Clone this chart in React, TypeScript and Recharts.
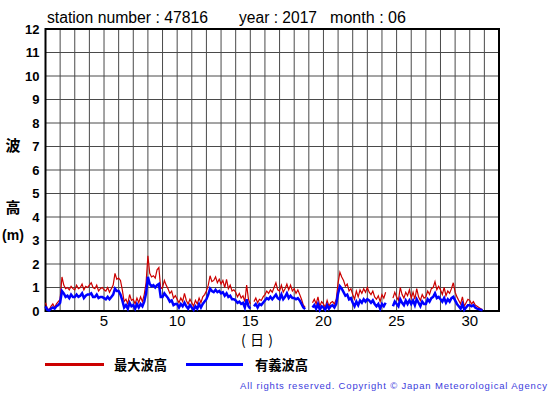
import React from 'react';
import { LineChart, Line, XAxis, YAxis, CartesianGrid, ReferenceArea } from 'recharts';

// 3-hourly values, one row per day (June 2017, station 47816)
const maxWave: (number | null)[] = [
  0.35, 0.1, 0.05, 0.2, 0.3, 0.15, 0.3, 0.4,
  0.5, 1.45, 1.1, 0.95, 1.0, 0.9, 1.05, 0.95,
  0.9, 1.1, 0.95, 1.0, 1.15, 0.9, 1.05, 1.0,
  1.1, 1.2, 1.0, 0.95, 1.1, 0.85, 0.95, 1.0,
  0.9, 0.85, 1.0, 0.8, 0.95, 1.1, 1.6, 1.35,
  1.4, 1.3, 0.9, 0.4, 0.5, 0.3, 0.7, 0.45,
  0.5, 0.3, 0.55, 0.35, 0.6, 0.4, 0.7, 1.2,
  2.35, 1.6, 1.45, 1.5, 1.4, 1.75, 1.85, 0.95,
  1.0, 1.3, 1.1, 0.95, 0.75, 0.85, 0.55, 0.65,
  0.5, 0.35, 0.55, 0.4, 0.75, 0.45, 0.3, 0.5,
  0.35, 0.2, 0.45, 0.3, 0.55, 0.35, 0.6, 0.7,
  0.85, 1.1, 1.5, 1.25, 1.3, 1.45, 1.2, 1.35,
  1.15, 1.3, 1.0, 1.35, 0.95, 1.1, 0.85, 0.9,
  0.8, 0.6, 0.75, 0.55, 0.65, 0.4, 1.1, 0.5,
  0.3, null, 0.4, 0.55, 0.35, 0.5, 0.45, 0.6,
  0.7, 0.85, 0.75, 0.9, 0.8, 1.0, 1.2, 0.9,
  0.85, 1.1, 0.8, 0.95, 1.15, 0.9, 1.1, 0.85,
  0.95, 0.75, 0.9, 0.7, 0.5, 0.25, 0.15, null,
  0.7, null, 0.35, 0.5, 0.3, 0.6, 0.2, 0.4,
  0.3, 0.15, 0.45, 0.2, 0.35, 0.4, 0.3, 0.5,
  1.2, 1.65, 1.45, 1.3, 1.05, 1.15, 0.85, 0.95,
  0.7, 0.5, 0.85, 0.6, 0.9, 0.75, 0.95, 0.8,
  1.0, 0.8, 0.7, 0.85, 0.6, 0.5, 0.65, 0.4,
  0.7, 0.55, 0.8, null, 0.35, null, 0.55, 0.8,
  0.6, 0.45, 1.0, 0.7, 0.55, 0.8, 0.65, 0.9,
  0.55, 0.8, 0.5, 0.95, 0.6, 0.45, 0.7, 0.55,
  0.6, 0.85, 0.7, 0.95, 1.0, 1.25, 0.9, 1.05,
  0.9, 0.7, 1.0, 0.65, 0.85, 0.75, 0.95, 1.2,
  0.8, 0.6, 0.45, 0.3, 0.6, 0.2, 0.35, 0.5,
  0.45, 0.3, 0.4, 0.25, 0.2, 0.15, 0.1, 0.05,
];

const sigWave: (number | null)[] = [
  0.2, 0.05, 0.03, 0.1, 0.15, 0.1, 0.2, 0.25,
  0.35, 0.85, 0.75, 0.6, 0.65, 0.55, 0.7, 0.6,
  0.6, 0.7, 0.6, 0.65, 0.75, 0.55, 0.65, 0.7,
  0.7, 0.75, 0.6, 0.6, 0.7, 0.55, 0.6, 0.6,
  0.55, 0.5, 0.6, 0.5, 0.6, 0.7, 0.95, 0.85,
  0.85, 0.7, 0.45, 0.15, 0.25, 0.1, 0.35, 0.2,
  0.25, 0.1, 0.3, 0.15, 0.3, 0.2, 0.4, 0.75,
  1.45, 1.15, 1.05, 1.1, 1.0, 1.1, 1.15, 0.6,
  0.6, 0.75, 0.65, 0.55, 0.4, 0.45, 0.25, 0.3,
  0.3, 0.15, 0.3, 0.2, 0.35, 0.2, 0.1, 0.25,
  0.15, 0.05, 0.2, 0.1, 0.3, 0.15, 0.3, 0.4,
  0.5, 0.7, 0.95, 0.85, 0.8, 0.9, 0.8, 0.85,
  0.75, 0.8, 0.65, 0.75, 0.6, 0.65, 0.5, 0.5,
  0.45, 0.35, 0.4, 0.3, 0.35, 0.15, 0.5, 0.2,
  0.1, null, 0.2, 0.3, 0.15, 0.3, 0.25, 0.35,
  0.45, 0.55, 0.5, 0.6, 0.5, 0.6, 0.7, 0.55,
  0.5, 0.7, 0.5, 0.6, 0.75, 0.55, 0.65, 0.55,
  0.55, 0.5, 0.55, 0.45, 0.3, 0.15, 0.08, null,
  0.3, null, 0.15, 0.25, 0.1, 0.3, 0.05, 0.2,
  0.15, 0.05, 0.25, 0.1, 0.2, 0.25, 0.15, 0.3,
  0.75, 1.05, 0.95, 0.8, 0.65, 0.7, 0.5, 0.55,
  0.35, 0.2, 0.4, 0.25, 0.45, 0.35, 0.5, 0.4,
  0.5, 0.45, 0.35, 0.45, 0.3, 0.2, 0.3, 0.1,
  0.3, 0.2, 0.35, null, 0.1, null, 0.2, 0.4,
  0.3, 0.2, 0.5, 0.35, 0.25, 0.45, 0.3, 0.45,
  0.3, 0.45, 0.25, 0.5, 0.35, 0.2, 0.4, 0.3,
  0.3, 0.5, 0.4, 0.55, 0.6, 0.75, 0.55, 0.6,
  0.5, 0.4, 0.55, 0.35, 0.5, 0.4, 0.55, 0.6,
  0.45, 0.3, 0.2, 0.1, 0.3, 0.05, 0.15, 0.25,
  0.25, 0.2, 0.25, 0.15, 0.1, 0.08, 0.05, 0.03,
];

const dayTicks = Array.from({ length: 32 }, (_, i) => i + 1);
const dayLabels = [5, 10, 15, 20, 25, 30];
const heightTicks = [0, 1, 2, 3, 4, 5, 6, 7, 8, 9, 10, 11, 12];

const data = maxWave.map((v, i) => ({ t: 1 + i / 8, max: v, sig: sigWave[i] }));

const sans = '"Liberation Sans", Arial, Helvetica, sans-serif';
const cjk = '"Noto Sans CJK JP", sans-serif';

export default function App() {
  return (
    <div style={{ position: 'absolute', left: 0, top: 0, width: 555, height: 395, background: '#fff' }}>
      <LineChart width={555} height={395} data={data} margin={{ top: 29, right: 56, bottom: 55, left: 0 }}>
        <CartesianGrid stroke="#4a4a4a" strokeWidth={1} />
        <XAxis
          type="number"
          dataKey="t"
          domain={[1, 32]}
          ticks={dayTicks}
          interval={0}
          tickFormatter={(v: number) => (dayLabels.includes(v) ? String(v) : '')}
          axisLine={false}
          tickLine={false}
          tickSize={2}
          tickMargin={2}
          height={29}
          tick={{ fill: '#000', fontSize: 15, fontFamily: sans }}
        />
        <YAxis
          type="number"
          domain={[0, 12]}
          ticks={heightTicks}
          interval={0}
          width={45.5}
          axisLine={false}
          tickLine={false}
          tickSize={4}
          tickMargin={2}
          tick={{ fill: '#000', fontSize: 13, fontWeight: 'bold', fontFamily: sans }}
        />
        <ReferenceArea x1={1} x2={32} y1={0} y2={12} fill="none" stroke="#000" strokeWidth={2} />
        <Line
          dataKey="max"
          stroke="#cc0000"
          strokeWidth={1.2}
          dot={false}
          connectNulls={false}
          isAnimationActive={false}
        />
        <Line
          dataKey="sig"
          stroke="#0000ff"
          strokeWidth={2.5}
          dot={false}
          connectNulls={false}
          isAnimationActive={false}
        />
      </LineChart>
      <svg width={555} height={395} style={{ position: 'absolute', left: 0, top: 0, pointerEvents: 'none' }}>
        <g fontFamily={sans} fontSize={16} fill="#000">
          <text x={47} y={23} textLength={161} lengthAdjust="spacingAndGlyphs">station number : 47816</text>
          <text x={239} y={23} textLength={78} lengthAdjust="spacingAndGlyphs">year : 2017</text>
          <text x={330} y={23} textLength={76} lengthAdjust="spacingAndGlyphs">month : 06</text>
        </g>
        <g fontFamily={cjk} fontWeight="bold" fontSize={15} fill="#000" textAnchor="middle">
          <text x={13} y={150.5}>波</text>
          <text x={13} y={212.5}>高</text>
        </g>
        <text x={13} y={240} fontFamily={sans} fontWeight="bold" fontSize={14} textAnchor="middle">(m)</text>
        <text x={241} y={345} fontFamily={cjk} fontSize={14} textLength={32} lengthAdjust="spacing">(日)</text>
        <line x1={45} x2={104} y1={364.5} y2={364.5} stroke="#cc0000" strokeWidth={3} />
        <text x={114} y={370} fontFamily={cjk} fontWeight="bold" fontSize={13.5} textLength={53} lengthAdjust="spacingAndGlyphs">最大波高</text>
        <line x1={186} x2={243} y1={364.5} y2={364.5} stroke="#0000ff" strokeWidth={3} />
        <text x={255} y={370} fontFamily={cjk} fontWeight="bold" fontSize={13.5} textLength={53} lengthAdjust="spacingAndGlyphs">有義波高</text>
        <text x={240} y={389} fontFamily={sans} fontSize={9.5} fill="#3c3cdc" textLength={307} lengthAdjust="spacing">
          All rights reserved. Copyright © Japan Meteorological Agency
        </text>
      </svg>
    </div>
  );
}
